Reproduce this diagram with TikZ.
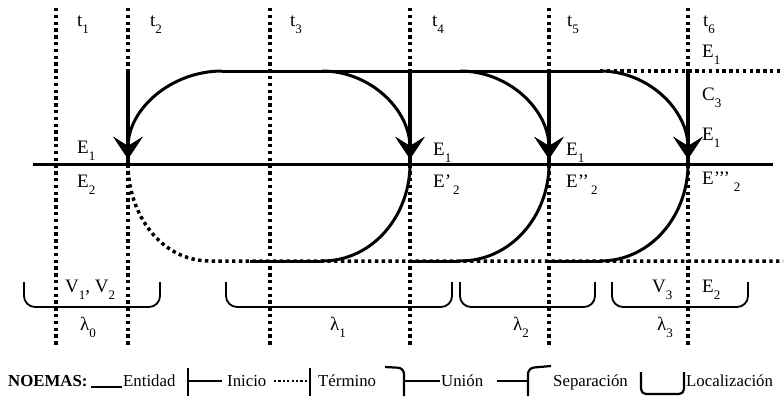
\documentclass[tikz,border=0pt]{standalone}
\usepackage{fontspec}
\setmainfont{Liberation Serif}
\usetikzlibrary{arrows.meta}
\newcommand\lsub[1]{\raisebox{-7pt}{\fontsize{13}{13}\selectfont #1}}
\begin{document}
\begin{tikzpicture}[x=1pt,y=1pt,
  tdiv/.style={line width=3.5pt,dash pattern=on 3.4pt off 3.4pt},
  dotent/.style={line width=3.5pt,dash pattern=on 3.4pt off 3.4pt},
  ent/.style={line width=3pt},
  varrow/.style={line width=4pt,-{Stealth[length=22pt,width=29pt,inset=9pt]}},
  carrow/.style={line width=3pt,-{Stealth[length=22pt,width=29pt,inset=9pt]}},
  lbl/.style={anchor=base west,inner sep=0pt,font=\fontsize{19}{22}\selectfont},
  brace/.style={line width=1.8pt,rounded corners=11pt},
  leg/.style={line width=2.2pt},
  legtxt/.style={anchor=base west,inner sep=0pt,font=\fontsize{16.8}{20}\selectfont}]
\useasboundingbox (0,0) rectangle (784,-397);
% time dividers
\foreach \n/\x in {1/56,2/128,3/270,4/410,5/549,6/688}{
  \coordinate (vt\n) at (\x,-8);
  \coordinate (vb\n) at (\x,-345);
  \draw[tdiv] (vt\n) -- (vb\n);
}
% key coordinates
\coordinate (topL) at (222,-71);
\coordinate (topA) at (322,-71);
\coordinate (topB) at (460,-71);
\coordinate (topC) at (600,-71);
\coordinate (topR) at (783,-71);
\coordinate (m2) at (128,-164);
\coordinate (m4) at (410,-164);
\coordinate (m5) at (549,-164);
\coordinate (m6) at (688,-164);
\coordinate (a2) at (128,-159);
\coordinate (a4) at (410,-159);
\coordinate (a5) at (549,-159);
\coordinate (a6) at (688,-159);
\coordinate (t2) at (128,-70);
\coordinate (t4) at (410,-70);
\coordinate (t5) at (549,-70);
\coordinate (t6) at (688,-70);
\coordinate (midL) at (33,-164);
\coordinate (midR) at (773,-164);
\coordinate (botD) at (210,-261);
\coordinate (botS) at (250,-261);
\coordinate (botA) at (322,-261);
\coordinate (bot4) at (410,-261);
\coordinate (botB) at (460,-261);
\coordinate (bot5) at (549,-261);
\coordinate (botC) at (600,-261);
\coordinate (botR) at (783,-261);
% dotted entity parts
\draw[dotent] (topC) -- (topR);
\draw[dotent] (m2) to[out=-90,in=180] (botD) -- (botR);
% solid entity lines
\draw[ent] (topL) -- (topC);
\draw[ent] (midL) -- (midR);
\draw[ent] (botS) -- (botA);
\draw[ent] (bot4) -- (botB);
\draw[ent] (bot5) -- (botC);
% arcs
\draw[carrow] (topL) to[out=180,in=90] (a2);
\draw[carrow] (topA) to[out=0,in=90] (a4);
\draw[carrow] (topB) to[out=0,in=90] (a5);
\draw[carrow] (topC) to[out=0,in=90] (a6);
\draw[ent] (m4) to[out=-90,in=0] (botA);
\draw[ent] (m5) to[out=-90,in=0] (botB);
\draw[ent] (m6) to[out=-90,in=0] (botC);
% vertical arrows
\draw[varrow] (t2) -- (a2);
\draw[varrow] (t4) -- (a4);
\draw[varrow] (t5) -- (a5);
\draw[varrow] (t6) -- (a6);
\draw[line width=4pt] (128,-150) -- (m2);
\draw[line width=4pt] (410,-150) -- (m4);
\draw[line width=4pt] (549,-150) -- (m5);
\draw[line width=4pt] (688,-150) -- (m6);
% time labels
\node[lbl] (lt1) at (77,-26) {t\lsub{1}};
\node[lbl] (lt2) at (150,-26) {t\lsub{2}};
\node[lbl] (lt3) at (290,-26) {t\lsub{3}};
\node[lbl] (lt4) at (432,-26) {t\lsub{4}};
\node[lbl] (lt5) at (567,-26) {t\lsub{5}};
\node[lbl] (lt6) at (703,-26) {t\lsub{6}};
% entity labels
\node[lbl] (e1a) at (77,-153) {E\lsub{1}};
\node[lbl] (e2a) at (77,-187) {E\lsub{2}};
\node[lbl] (e1b) at (433,-155) {E\lsub{1}};
\node[lbl] (e2b) at (433,-187) {E’\hspace{2pt}\lsub{2}};
\node[lbl] (e1c) at (566,-155) {E\lsub{1}};
\node[lbl] (e2c) at (566,-187) {E’’\hspace{2pt}\lsub{2}};
\node[lbl] (e1d) at (702,-57) {E\lsub{1}};
\node[lbl] (c3) at (702,-100) {C\lsub{3}};
\node[lbl] (e1e) at (702,-140) {E\lsub{1}};
\node[lbl] (e2d) at (702,-184) {E’’’\hspace{4pt}\lsub{2}};
% braces
\draw[brace] (24,-282) -- (24,-307) -- (160,-307) -- (160,-282);
\draw[brace] (226,-282) -- (226,-307) -- (452,-307) -- (452,-282);
\draw[brace] (460,-282) -- (460,-307) -- (595,-307) -- (595,-282);
\draw[brace] (612,-282) -- (612,-307) -- (748,-307) -- (748,-282);
\node[lbl] (v12) at (65,-292) {V\lsub{1}, V\lsub{2}};
\node[lbl] (v3) at (652,-292) {V\lsub{3}};
\node[lbl] (e2e) at (702,-292) {E\lsub{2}};
\node[lbl] (l0) at (80,-330) {λ\lsub{0}};
\node[lbl] (l1) at (330,-330) {λ\lsub{1}};
\node[lbl] (l2) at (513,-330) {λ\lsub{2}};
\node[lbl] (l3) at (657,-330) {λ\lsub{3}};
% legend
\node[legtxt,font=\fontsize{16.8}{20}\selectfont\bfseries] (noemas) at (8,-386) {NOEMAS:};
\draw[leg] (91,-387) -- (122,-387);
\node[legtxt] (lent) at (123,-386) {Entidad};
\draw[leg] (188,-368) -- (188,-396);
\draw[leg] (188,-381) -- (222,-381);
\node[legtxt] (lini) at (227,-386) {Inicio};
\draw[leg,dash pattern=on 2.2pt off 2.2pt] (274,-381) -- (308,-381);
\draw[leg] (310,-368) -- (310,-396);
\node[legtxt] (lter) at (318,-386) {Término};
\draw[leg,rounded corners=6pt] (385,-367) -- (404,-368) -- (404,-396);
\draw[leg] (404,-381) -- (440,-381);
\node[legtxt] (luni) at (441,-386) {Unión};
\draw[leg] (497,-381) -- (528,-381);
\draw[leg,rounded corners=6pt] (528,-396) -- (528,-368) -- (551,-366);
\node[legtxt] (lsep) at (553,-386) {Separación};
\draw[leg,rounded corners=5pt] (641,-372) -- (641,-394) -- (684,-394) -- (684,-372);
\node[legtxt] (lloc) at (686,-386) {Localización};
\end{tikzpicture}
\end{document}
